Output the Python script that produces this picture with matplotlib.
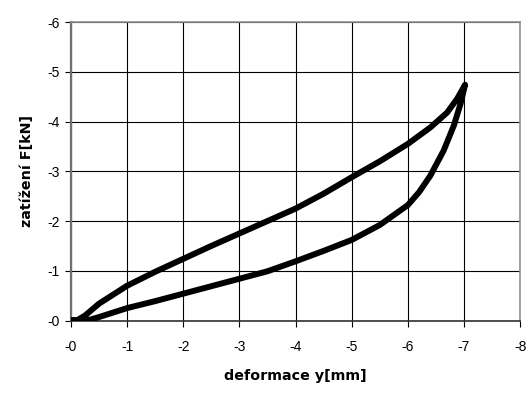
import matplotlib
matplotlib.use("Agg")
import matplotlib.pyplot as plt

# loading branch (lower) and unloading branch (upper), magnitudes
load_x = [0.0, 0.2, 0.35, 0.5, 1.0, 1.5, 2.0, 2.5, 3.0, 3.5, 4.0, 4.5, 5.0, 5.5, 6.0, 6.2, 6.4, 6.64, 6.82, 6.94, 7.02]
load_y = [0.0, 0.0, 0.02, 0.07, 0.25, 0.39, 0.54, 0.69, 0.84, 0.99, 1.19, 1.40, 1.62, 1.92, 2.32, 2.58, 2.91, 3.42, 3.92, 4.36, 4.74]
unload_x = [7.02, 6.88, 6.7, 6.4, 6.0, 5.5, 5.0, 4.5, 4.0, 3.5, 3.0, 2.5, 2.0, 1.5, 1.0, 0.5, 0.25, 0.1, 0.0]
unload_y = [4.74, 4.46, 4.18, 3.88, 3.55, 3.20, 2.88, 2.55, 2.25, 2.00, 1.75, 1.50, 1.24, 0.98, 0.70, 0.34, 0.10, 0.0, 0.0]

x_ticks = [0, -1, -2, -3, -4, -5, -6, -7, -8]
x_labels = ["-0", "-1", "-2", "-3", "-4", "-5", "-6", "-7", "-8"]
y_ticks = [0, -1, -2, -3, -4, -5, -6]
y_labels = ["-0", "-1", "-2", "-3", "-4", "-5", "-6"]

plt.rcParams['font.family'] = ['Liberation Sans', 'DejaVu Sans']

fig = plt.figure(figsize=(5.28, 3.94), dpi=100)
ax = fig.add_axes([0.1345, 0.1865, 0.8505, 0.7575])

xs = [-v for v in load_x + unload_x]
ys = [-v for v in load_y + unload_y]
ax.plot(xs, ys, color='black', lw=4.3, solid_joinstyle='round', solid_capstyle='round', zorder=3)

ax.set_xlim(0, -8)
ax.set_ylim(0, -6)
ax.set_xticks(x_ticks)
ax.set_xticklabels(x_labels, fontsize=10)
ax.set_yticks(y_ticks)
ax.set_yticklabels(y_labels, fontsize=10)

ax.grid(True, color='black', lw=0.8)
ax.set_axisbelow(True)
for s in ['top', 'right']:
    ax.spines[s].set_color('#909090')
    ax.spines[s].set_linewidth(1.2)
ax.spines['left'].set_color('#707070')
ax.spines['left'].set_linewidth(1.6)
ax.spines['bottom'].set_color('#303030')
ax.spines['bottom'].set_linewidth(1.2)
ax.tick_params(direction='out', length=4, width=0.8, color='black', pad=10)
ax.tick_params(axis='y', pad=4)

lab_font = dict(family=['DejaVu Sans'], fontsize=10.3, fontweight='bold')
ax.set_xlabel("deformace y[mm]", labelpad=11, **lab_font)
ax.set_ylabel("zatížení F[kN]", labelpad=10, **lab_font)

fig.savefig("out.png", dpi=100)
